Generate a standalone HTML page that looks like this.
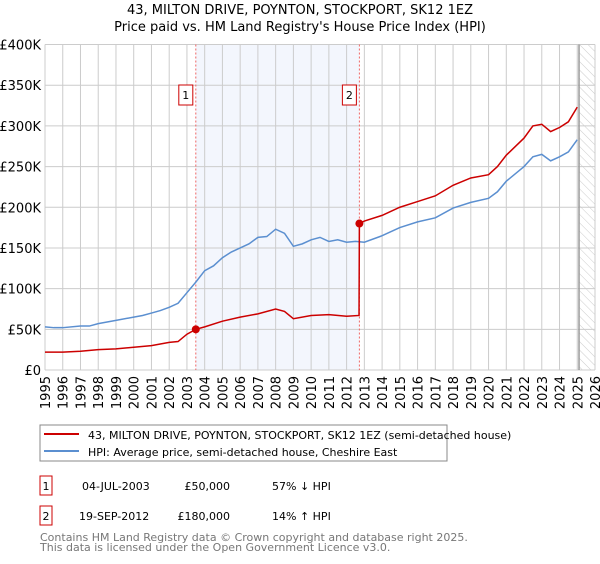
<!DOCTYPE html>
<html><head><meta charset="utf-8"><style>
body{margin:0;background:#fff;font-family:"DejaVu Sans","Liberation Sans",sans-serif}
#wrap{position:relative;width:600px;height:560px}
text{font-family:"DejaVu Sans","Liberation Sans",sans-serif}
</style></head><body><div id="wrap">
<svg id="chart" width="600" height="560">
<defs><pattern id="hatch" width="6" height="6" patternUnits="userSpaceOnUse" patternTransform="rotate(-45)"><line x1="0" y1="0" x2="0" y2="6" stroke="#ccc" stroke-width="1"/></pattern></defs>
<text x="300" y="14" text-anchor="middle" font-size="13">43, MILTON DRIVE, POYNTON, STOCKPORT, SK12 1EZ</text>
<text x="300" y="31" text-anchor="middle" font-size="13">Price paid vs. HM Land Registry's House Price Index (HPI)</text>
<g id="plot"></g>
<rect x="40" y="425" width="407" height="36" fill="#fff" stroke="#888"/>
<line x1="44" y1="434" x2="79" y2="434" stroke="#cc0000" stroke-width="2"/>
<text x="88" y="439" font-size="11">43, MILTON DRIVE, POYNTON, STOCKPORT, SK12 1EZ (semi-detached house)</text>
<line x1="44" y1="451" x2="79" y2="451" stroke="#5b8fd0" stroke-width="2"/>
<text x="88" y="456" font-size="11">HPI: Average price, semi-detached house, Cheshire East</text>
<g font-size="11">
<rect x="40" y="476" width="12" height="19" fill="#fff" stroke="#cc0000"/>
<text x="46" y="490" text-anchor="middle">1</text>
<text x="82" y="490">04-JUL-2003</text><text x="230" y="490" text-anchor="end">£50,000</text><text x="272" y="490">57% ↓ HPI</text>
<rect x="40" y="506" width="12" height="19" fill="#fff" stroke="#cc0000"/>
<text x="46" y="520" text-anchor="middle">2</text>
<text x="79" y="520">19-SEP-2012</text><text x="230" y="520" text-anchor="end">£180,000</text><text x="272" y="520">14% ↑ HPI</text>
</g>
<text x="40" y="541" font-size="11" fill="#777">Contains HM Land Registry data © Crown copyright and database right 2025.</text>
<text x="40" y="551" font-size="11" fill="#777">This data is licensed under the Open Government Licence v3.0.</text>
</svg></div>
<script>
const hpiT=[1995,1995.5,1996,1997,1997.5,1998,1999,2000,2000.5,2001,2001.5,2002,2002.5,2003,2003.5,2004,2004.5,2005,2005.5,2006,2006.5,2007,2007.5,2008,2008.5,2009,2009.5,2010,2010.5,2011,2011.5,2012,2012.5,2013,2014,2015,2016,2017,2018,2019,2020,2020.5,2021,2022,2022.5,2023,2023.5,2024,2024.5,2025];
const hpiV=[53,52,52,54,54,57,61,65,67,70,73,77,82,95,108,122,128,138,145,150,155,163,164,173,168,152,155,160,163,158,160,157,158,157,165,175,182,187,199,206,211,219,232,250,262,265,257,262,268,283];
const redT=[1995,1996,1997,1998,1999,2000,2001,2002,2002.5,2003,2003.5,2004,2005,2006,2007,2008,2008.5,2009,2010,2011,2012,2012.7,2012.72,2013,2014,2015,2016,2017,2018,2019,2020,2020.5,2021,2022,2022.5,2023,2023.5,2024,2024.5,2025];
const redV=[22,22,23,25,26,28,30,34,35,44,50,53,60,65,69,75,72,63,67,68,66,67,180,183,190,200,207,214,227,236,240,250,264,285,300,302,293,298,305,323];
const saleT=[2003.5,2012.72];
const saleV=[50,180];
const yTicks=[0,50,100,150,200,250,300,350,400];
const xTicks=[1995,1996,1997,1998,1999,2000,2001,2002,2003,2004,2005,2006,2007,2008,2009,2010,2011,2012,2013,2014,2015,2016,2017,2018,2019,2020,2021,2022,2023,2024,2025,2026];
const X0=45,X1=595,Y0=370,Y1=44.5;
const xs=t=>X0+(t-1995)/(2026-1995)*(X1-X0);
const ys=v=>Y0-v/400*(Y0-Y1);
const NS="http://www.w3.org/2000/svg";
const g=document.getElementById('plot');
function mk(tag,attrs){const e=document.createElementNS(NS,tag);for(const k in attrs)e.setAttribute(k,attrs[k]);g.appendChild(e);return e;}
let e=mk('rect',{x:X0,y:Y1,width:X1-X0,height:Y0-Y1,fill:'#fff'});


e=mk('rect',{x:xs(saleT[0]),y:Y1,width:xs(saleT[1])-xs(saleT[0]),height:Y0-Y1,fill:'#eef2fc',opacity:0.7});


e=mk('rect',{x:xs(2025.1),y:Y1,width:X1-xs(2025.1),height:Y0-Y1,fill:'url(#hatch)'});


yTicks.forEach(v=>{
 let l=mk('line',{x1:X0,x2:X1,y1:ys(v),y2:ys(v),stroke:'#ccc'});
 
 
 let t=mk('text',{x:X0-4,y:ys(v)+5,'text-anchor':'end','font-size':13});
 t.textContent=v===0?'£0':'£'+v+'K';
 
 
});
xTicks.forEach(y=>{
 let l=mk('line',{x1:xs(y),x2:xs(y),y1:Y1,y2:Y0,stroke:'#ccc'});
 
 
 let t=mk('text',{x:0,y:0,'text-anchor':'end','font-size':13,transform:`translate(${xs(y)+5},${Y0+6}) rotate(-90)`});
 t.textContent=y;
 
 
});
e=mk('line',{x1:xs(2025.1),x2:xs(2025.1),y1:Y1,y2:Y0,stroke:'#999','stroke-width':1.5});


saleT.forEach((t,i)=>{
 let l=mk('line',{x1:xs(t),x2:xs(t),y1:Y1,y2:Y0,stroke:'#e66','stroke-dasharray':'2,2'});
 
 
 let r=mk('rect',{x:xs(t)-17,y:85,width:14,height:20,fill:'#fff',stroke:'#cc0000'});
 
 
 let tx=mk('text',{x:xs(t)-10,y:99,'text-anchor':'middle','font-size':11});
 tx.textContent=String(i+1);
 
 
});
e=mk('polyline',{points:hpiT.map((t,i)=>xs(t)+','+ys(hpiV[i])).join(' '),fill:'none',stroke:'#5b8fd0','stroke-width':1.5});


e=mk('polyline',{points:redT.map((t,i)=>xs(t)+','+ys(redV[i])).join(' '),fill:'none',stroke:'#cc0000','stroke-width':1.5});


saleT.forEach((t,i)=>{
 let c=mk('circle',{cx:xs(t),cy:ys(saleV[i]),r:4,fill:'#cc0000'});
 
 
});
</script></body></html>
